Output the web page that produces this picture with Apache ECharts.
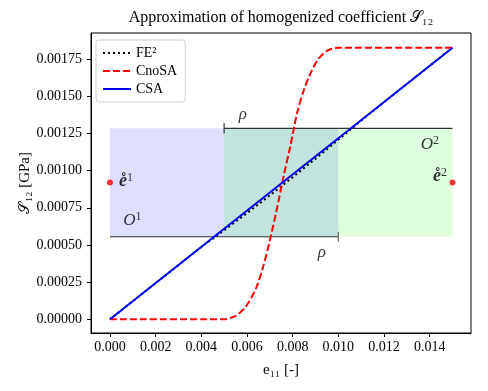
<!DOCTYPE html>
<html>
<head>
<meta charset="utf-8">
<script src="https://cdn.jsdelivr.net/npm/echarts@6/dist/echarts.min.js"></script>
<style>
html,body{margin:0;padding:0;background:#fff;}
#chart{width:488px;height:391px;}
</style>
</head>
<body>
<div id="chart"></div>
<script>
// axis ticks
var xTicks = [0, 0.002, 0.004, 0.006, 0.008, 0.010, 0.012, 0.014];
var yTicks = [0, 0.00025, 0.0005, 0.00075, 0.001, 0.00125, 0.0015, 0.00175];

// CSA : straight line
var csaX = [0, 0.015];
var csaY = [0, 0.001826];

// FE^2 : reference, slightly below CSA in the middle
var fe2X = [0, 0.002, 0.004, 0.005, 0.006, 0.007, 0.008, 0.009, 0.010, 0.011, 0.013, 0.015];
var fe2Y = [0, 0.000243, 0.000485, 0.000598, 0.000714, 0.000833, 0.000955, 0.001080, 0.001207, 0.001337, 0.001582, 0.001826];

// CnoSA : sigmoid
var cnosaX = [0, 0.0050, 0.0053, 0.0056, 0.0060, 0.0064, 0.0067, 0.0070, 0.0073, 0.0076, 0.0079, 0.0082, 0.0085, 0.0088, 0.0091, 0.0095, 0.0100, 0.0150];
var cnosaY = [0, 0, 0.000010, 0.000032, 0.000096, 0.000210, 0.000350, 0.000530, 0.000735, 0.000960, 0.001165, 0.001390, 0.001545, 0.001660, 0.001745, 0.001805, 0.001826, 0.001826];

// subdomains O1 / O2
var boxO1X = [0, 0.010];
var boxO2X = [0.005, 0.015];
var boxY = [0.000555, 0.001284];

// nodes e1 / e2
var nodeX = [0, 0.015];
var nodeY = [0.00092, 0.00092];

// rho brackets
var rhoUpX = [0.005, 0.015];
var rhoLowX = [0, 0.010];
var barHalf = 0.000034;

// annotation texts (base / superscript)
var annoX = [0.00582, 0.00928, 0.00098, 0.01401, 0.00070, 0.01445];
var annoY = [0.001374, 0.000447, 0.000661, 0.001172, 0.000925, 0.00096];
var annoBase = ['ρ', 'ρ', 'O', 'O', 'e̊', 'e̊'];
var annoSup = ['', '', '1', '2', '1', '2'];
var annoStyle = ['b', 'b', 'b', 'b', 'e', 'e'];

var FONT = '"Liberation Serif", "DejaVu Serif", serif';

function pairs(xs, ys) {
	var out = [];
	for (var i = 0; i < xs.length; i++) out.push([xs[i], ys[i]]);
	return out;
}

var annoData = [];
for (var i = 0; i < annoX.length; i++) {
	var txt = '{' + annoStyle[i] + '|' + annoBase[i] + '}';
	if (annoSup[i]) txt += '{s|' + annoSup[i] + '}';
	annoData.push({value: [annoX[i], annoY[i]], label: {formatter: txt}});
}

var chart = echarts.init(document.getElementById('chart'), null, {renderer: 'canvas'});
chart.setOption({
	animation: false,
	title: {
		text: 'Approximation of homogenized coefficient 𝒮₁₂',
		left: 281,
		top: 10,
		textAlign: 'center',
		padding: 0,
		textStyle: {fontFamily: FONT, fontWeight: 'normal', fontSize: 16, color: '#000'}
	},
	legend: {
		orient: 'vertical',
		left: 96,
		top: 40,
		itemWidth: 28,
		itemHeight: 13,
		itemGap: 4,
		padding: [6, 8, 6, 6],
		selectedMode: false,
		itemStyle: {opacity: 0},
		backgroundColor: 'rgba(255,255,255,0.8)',
		borderColor: '#d0d0d0',
		borderWidth: 1,
		borderRadius: 3,
		textStyle: {fontFamily: FONT, fontSize: 14, color: '#000'},
		data: ['FE²', 'CnoSA', 'CSA']
	},
	grid: {
		left: 91, right: 17, top: 33, bottom: 58,
		show: true, borderColor: '#000', borderWidth: 1, backgroundColor: 'transparent'
	},
	xAxis: {
		type: 'value',
		min: -0.00083,
		max: 0.01581,
		name: 'e₁₁ [-]',
		nameLocation: 'middle',
		nameGap: 30,
		nameMoveOverlap: false,
		nameTextStyle: {fontFamily: FONT, fontSize: 15, color: '#000'},
		splitLine: {show: false},
		axisLine: {show: true, onZero: false, lineStyle: {color: '#000', width: 1}},
		axisTick: {show: true, length: 4, customValues: xTicks, lineStyle: {color: '#000'}},
		axisLabel: {
			customValues: xTicks, margin: 7,
			fontFamily: FONT, fontSize: 14, color: '#000',
			formatter: function(v) { return v.toFixed(3); }
		}
	},
	yAxis: {
		type: 'value',
		min: -0.0000921,
		max: 0.001925,
		name: '𝒮₁₂ [GPa]',
		nameLocation: 'middle',
		nameGap: 58,
		nameMoveOverlap: false,
		nameTextStyle: {fontFamily: FONT, fontSize: 15, color: '#000'},
		splitLine: {show: false},
		axisLine: {show: true, onZero: false, lineStyle: {color: '#000', width: 1}},
		axisTick: {show: true, length: 4, customValues: yTicks, lineStyle: {color: '#000'}},
		axisLabel: {
			customValues: yTicks, margin: 9,
			fontFamily: FONT, fontSize: 14, color: '#000',
			formatter: function(v) { return v.toFixed(5); }
		}
	},
	series: [
		{
			// subdomain boxes
			type: 'line', data: [], z: 1, silent: true,
			markArea: {
				silent: true,
				data: [
					[{coord: [boxO1X[0], boxY[0]], itemStyle: {color: 'rgba(0,0,255,0.13)'}}, {coord: [boxO1X[1], boxY[1]]}],
					[{coord: [boxO2X[0], boxY[0]], itemStyle: {color: 'rgba(0,255,0,0.13)'}}, {coord: [boxO2X[1], boxY[1]]}]
				]
			}
		},
		{
			type: 'line', z: 2, symbol: 'none', silent: true,
			data: pairs(rhoUpX, [boxY[1], boxY[1]]),
			lineStyle: {color: '#333', width: 1.2}
		},
		{
			type: 'line', z: 2, symbol: 'none', silent: true,
			data: [[rhoUpX[0], boxY[1] - barHalf], [rhoUpX[0], boxY[1] + barHalf]],
			lineStyle: {color: '#333', width: 1.2}
		},
		{
			type: 'line', z: 2, symbol: 'none', silent: true,
			data: pairs(rhoLowX, [boxY[0], boxY[0]]),
			lineStyle: {color: '#333', width: 1.2}
		},
		{
			type: 'line', z: 2, symbol: 'none', silent: true,
			data: [[rhoLowX[1], boxY[0] - barHalf], [rhoLowX[1], boxY[0] + barHalf]],
			lineStyle: {color: '#666', width: 1.2}
		},
		{
			name: 'FE²', type: 'line', z: 3, symbol: 'none', symbolSize: 0,
			data: pairs(fe2X, fe2Y),
			itemStyle: {color: '#000'},
			lineStyle: {color: '#000', width: 2, type: [2, 3]}
		},
		{
			name: 'CnoSA', type: 'line', z: 4, symbol: 'none', symbolSize: 0, smooth: 0.3,
			data: pairs(cnosaX, cnosaY),
			itemStyle: {color: '#ff0000'},
			lineStyle: {color: '#ff0000', width: 2, type: [7, 3]}
		},
		{
			name: 'CSA', type: 'line', z: 5, symbol: 'none', symbolSize: 0,
			data: pairs(csaX, csaY),
			itemStyle: {color: '#0000ff'},
			lineStyle: {color: '#0000ff', width: 2}
		},
		{
			type: 'scatter', z: 6, symbolSize: 6, silent: true,
			data: pairs(nodeX, nodeY),
			itemStyle: {color: '#ff0000'}
		},
		{
			type: 'scatter', z: 7, symbolSize: 0, silent: true,
			data: annoData,
			label: {
				show: true, position: 'inside', align: 'center', verticalAlign: 'middle',
				color: '#000',
				rich: {
					b: {fontFamily: FONT, fontStyle: 'italic', fontSize: 17, lineHeight: 20, color: '#000'},
					e: {fontFamily: FONT, fontStyle: 'italic', fontWeight: 'bold', fontSize: 18, lineHeight: 20, color: '#000'},
					s: {fontFamily: FONT, fontSize: 12, lineHeight: 12, verticalAlign: 'top', color: '#000'}
				}
			}
		}
	]
});
</script>
</body>
</html>
